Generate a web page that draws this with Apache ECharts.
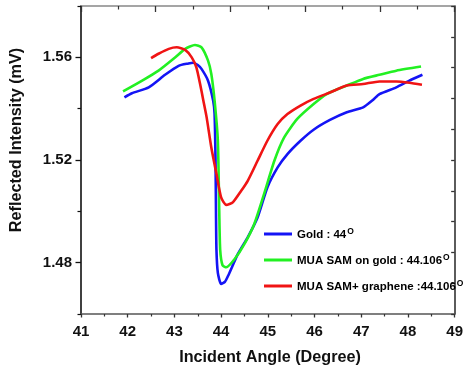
<!DOCTYPE html>
<html>
<head>
<meta charset="utf-8">
<script src="https://cdn.jsdelivr.net/npm/echarts@6/dist/echarts.min.js"></script>
<style>
  html, body { margin: 0; padding: 0; background: #fff; }
  #chart { width: 466px; height: 372px; }
</style>
</head>
<body>
<div id="chart"></div>
<script>
// Incident angle (degree) and reflected intensity (mV) for each surface
const goldAngle = [41.93, 42.09, 42.45, 42.80, 43.09, 43.30, 43.40, 43.50, 43.58, 43.72, 43.83, 43.86, 43.88, 43.89, 43.90, 43.93, 44.00, 44.08, 44.15, 44.36, 44.57, 44.78, 44.99, 45.21, 45.42, 45.70, 45.98, 46.33, 46.69, 47.04, 47.25, 47.39, 47.75, 48.03, 48.31];
const goldValue = [1.5444, 1.5460, 1.5483, 1.5532, 1.5567, 1.5576, 1.5579, 1.5570, 1.5555, 1.5509, 1.5431, 1.5380, 1.5200, 1.5000, 1.4850, 1.4760, 1.4717, 1.4725, 1.4749, 1.4834, 1.4899, 1.4976, 1.5093, 1.5171, 1.5223, 1.5275, 1.5318, 1.5356, 1.5386, 1.5405, 1.5434, 1.5457, 1.5483, 1.5509, 1.5532];

const muaAngle = [41.90, 42.31, 42.66, 43.02, 43.23, 43.44, 43.58, 43.72, 43.79, 43.86, 43.93, 43.96, 43.98, 44.03, 44.11, 44.29, 44.50, 44.71, 44.92, 45.14, 45.35, 45.63, 45.98, 46.26, 46.69, 47.04, 47.39, 47.75, 48.28];
const muaValue = [1.5467, 1.5509, 1.5548, 1.5600, 1.5633, 1.5648, 1.5639, 1.5587, 1.5535, 1.5431, 1.5275, 1.5000, 1.4850, 1.4790, 1.4782, 1.4814, 1.4873, 1.4951, 1.5068, 1.5197, 1.5288, 1.5360, 1.5418, 1.5457, 1.5490, 1.5516, 1.5532, 1.5548, 1.5564];

const grapheneAngle = [42.50, 42.66, 42.88, 43.05, 43.23, 43.37, 43.47, 43.55, 43.62, 43.69, 43.79, 43.90, 44.00, 44.11, 44.25, 44.43, 44.57, 44.78, 44.99, 45.21, 45.42, 45.70, 45.98, 46.33, 46.69, 47.04, 47.39, 47.75, 48.03, 48.30];
const grapheneValue = [1.5597, 1.5614, 1.5633, 1.5639, 1.5629, 1.5600, 1.5561, 1.5496, 1.5431, 1.5366, 1.5249, 1.5146, 1.5054, 1.5025, 1.5035, 1.5080, 1.5119, 1.5197, 1.5275, 1.5340, 1.5379, 1.5412, 1.5438, 1.5463, 1.5490, 1.5496, 1.5506, 1.5506, 1.5501, 1.5493];

const seriesNames = ['Gold : 44', 'MUA SAM on gold : 44.106', 'MUA SAM+ graphene :44.106'];
const seriesColors = ['#1414f5', '#22f022', '#f01414'];

const yMajorTicks = [1.48, 1.52, 1.56];
const yMinorTicks = [1.46, 1.50, 1.54, 1.58];

const FONT = 'Liberation Sans, Arial, sans-serif';

function pairs(xs, ys) {
  return xs.map((x, i) => [x, ys[i]]);
}

const chart = echarts.init(document.getElementById('chart'), null, { renderer: 'canvas' });

const lineSeries = [
  [goldAngle, goldValue],
  [muaAngle, muaValue],
  [grapheneAngle, grapheneValue]
].map(([xs, ys], i) => ({
  name: seriesNames[i],
  type: 'line',
  xAxisIndex: 0,
  yAxisIndex: 0,
  data: pairs(xs, ys),
  showSymbol: false,
  smooth: 0.2,
  lineStyle: { color: seriesColors[i], width: 2.6 },
  itemStyle: { color: seriesColors[i] },
  z: 3 + i
}));

chart.setOption({
  animation: false,
  backgroundColor: '#ffffff',
  grid: { left: 81, right: 7, top: 6, bottom: 58, containLabel: false },
  legend: {
    orient: 'vertical',
    left: 259,
    top: 222,
    icon: 'rect',
    itemWidth: 28,
    itemHeight: 3,
    itemGap: 8,
    data: seriesNames,
    formatter: name => '{t|' + name + '}{s|O}',
    textStyle: {
      rich: {
        t: { fontFamily: FONT, fontWeight: 'bold', fontSize: 11.5, color: '#000', lineHeight: 14, verticalAlign: 'bottom' },
        s: { fontFamily: FONT, fontWeight: 'bold', fontSize: 8.5, color: '#000', lineHeight: 9, verticalAlign: 'top', padding: [0, 0, 9, 1] }
      }
    }
  },
  xAxis: [
    {
      type: 'value', position: 'bottom', min: 41, max: 49, interval: 1,
      axisLine: { show: true, lineStyle: { color: '#555', width: 1.5 } },
      axisTick: { show: true, inside: false, length: 3.5, lineStyle: { color: '#333', width: 1.3 } },
      minorTick: { show: true, splitNumber: 2, length: 2.5, lineStyle: { color: '#333', width: 1.2 } },
      axisLabel: { fontFamily: FONT, fontWeight: 'bold', fontSize: 15, color: '#111', margin: 10 },
      splitLine: { show: false }
    },
    {
      type: 'value', position: 'top', min: 0, max: 5, interval: 1,
      axisLine: { show: true, lineStyle: { color: '#888', width: 1.5 } },
      axisTick: { show: true, inside: true, length: 6, lineStyle: { color: '#333', width: 1.3 } },
      minorTick: { show: true, splitNumber: 2, length: 3.5, lineStyle: { color: '#333', width: 1.2 } },
      axisLabel: { show: false },
      splitLine: { show: false }
    }
  ],
  yAxis: [
    {
      type: 'value', position: 'left', min: 1.46, max: 1.58, interval: 0.02,
      axisLine: { show: true, lineStyle: { color: '#000', width: 1.5 } },
      axisTick: { show: true, inside: false, length: 5.5, customValues: yMajorTicks, lineStyle: { color: '#111', width: 1.3 } },
      axisLabel: { customValues: yMajorTicks, formatter: v => v.toFixed(2), fontFamily: FONT, fontWeight: 'bold', fontSize: 15, color: '#111', margin: 9 },
      splitLine: { show: false }
    },
    {
      type: 'value', position: 'right', min: 0, max: 10, interval: 1,
      axisLine: { show: true, lineStyle: { color: '#333', width: 1.6 } },
      axisTick: { show: true, inside: true, length: 3.5, lineStyle: { color: '#333', width: 1.3 } },
      axisLabel: { show: false },
      splitLine: { show: false }
    },
    {
      type: 'value', position: 'left', min: 1.46, max: 1.58, interval: 0.02,
      axisLine: { show: false },
      axisTick: { show: true, inside: false, length: 3.5, customValues: yMinorTicks, lineStyle: { color: '#111', width: 1.2 } },
      axisLabel: { show: false },
      splitLine: { show: false }
    }
  ],
  graphic: [
    {
      type: 'text',
      x: 17, y: 140,
      rotation: Math.PI / 2,
      style: { text: 'Reflected Intensity (mV)', fontFamily: FONT, fontWeight: 'bold', fontSize: 16.2, fill: '#111', align: 'center', verticalAlign: 'middle' }
    },
    {
      type: 'text',
      x: 270, y: 358,
      style: { text: 'Incident Angle (Degree)', fontFamily: FONT, fontWeight: 'bold', fontSize: 16.2, fill: '#111', align: 'center', verticalAlign: 'middle' }
    }
  ],
  series: lineSeries
});
</script>
</body>
</html>
